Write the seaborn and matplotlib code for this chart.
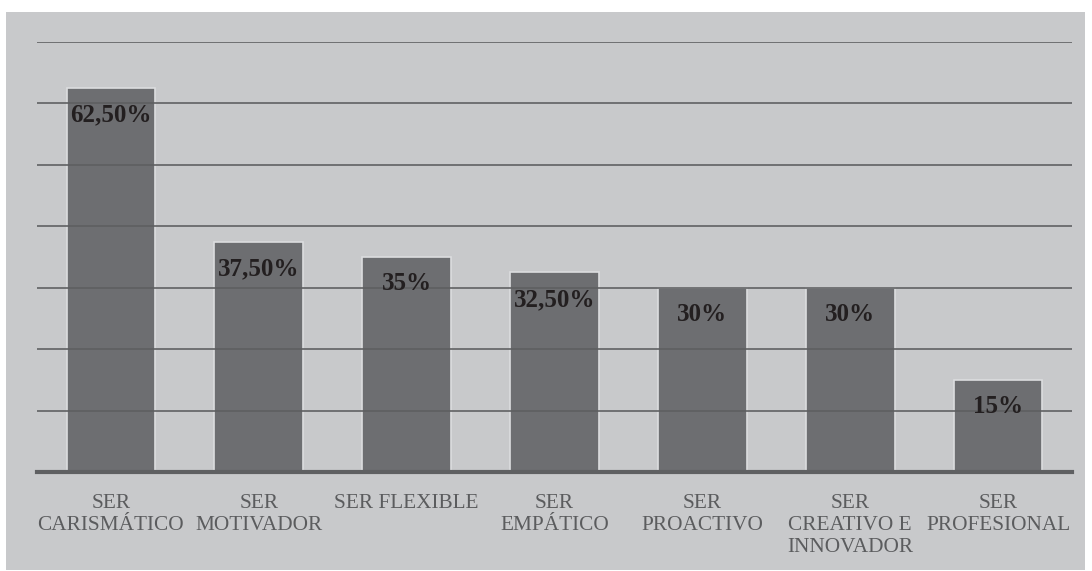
import matplotlib
matplotlib.use("Agg")
import matplotlib.pyplot as plt
import seaborn as sns
import pandas as pd
from matplotlib.patches import Rectangle

categories = ["SER\nCARISMÁTICO", "SER\nMOTIVADOR", "SER FLEXIBLE", "SER\nEMPÁTICO",
              "SER\nPROACTIVO", "SER\nCREATIVO E\nINNOVADOR", "SER\nPROFESIONAL"]
values = [62.5, 37.5, 35, 32.5, 30, 30, 15]
value_labels = ["62,50%", "37,50%", "35%", "32,50%", "30%", "30%", "15%"]
y_ticks = [0, 10, 20, 30, 40, 50, 60, 70]

df = pd.DataFrame({"cat": categories, "val": values})

sns.set_theme(style="white")
plt.rcParams["font.family"] = ["Liberation Serif", "DejaVu Serif"]

W, H = 1092, 571
fig = plt.figure(figsize=(W / 100, H / 100), dpi=100)
fig.patch.set_facecolor("white")

# gray chart panel behind the axes
panel = Rectangle((6 / W, 1 / H), (1085 - 6) / W, (571 - 12 - 1) / H,
                  transform=fig.transFigure, facecolor="#c8c9cb",
                  edgecolor="none", zorder=-10)
fig.patches.append(panel)

ax = fig.add_axes([37 / W, (H - 472) / H, (1072 - 37) / W, (472 - 42) / H])
ax.set_facecolor("none")
ax.set_zorder(1)

sns.barplot(data=df, x="cat", y="val", ax=ax, color="#6d6e71", width=0.6,
            edgecolor="#dcdddf", linewidth=1.2, saturation=1)

ax.set_ylim(0, 70)
ax.set_yticks(y_ticks)
ax.set_xlim(-0.5, len(categories) - 0.5)
ax.set_axisbelow(False)
ax.yaxis.grid(True, color="#5e5f61", alpha=0.9, linewidth=1.3)
ax.xaxis.grid(False)
ax.tick_params(axis="y", left=False, labelleft=False)
ax.tick_params(axis="x", bottom=False, pad=10, labelsize=15.3, labelcolor="#5b5c5e")
for lab in ax.get_xticklabels():
    lab.set_linespacing(1.2)
    lab.set_verticalalignment("top")
ax.set_xlabel("")
ax.set_ylabel("")

for s in ["top", "left", "right"]:
    ax.spines[s].set_visible(False)
ax.spines["bottom"].set_color("#5f6062")
ax.spines["bottom"].set_linewidth(3)
ax.spines["bottom"].set_zorder(4)

for i, (v, t) in enumerate(zip(values, value_labels)):
    ax.annotate(t, (i, v), xytext=(0, -27 * 0.72), textcoords="offset points",
                ha="center", va="center", fontsize=18, fontweight="bold",
                color="#231f20", zorder=5)

fig.savefig("out.png", dpi=100, facecolor="white")
